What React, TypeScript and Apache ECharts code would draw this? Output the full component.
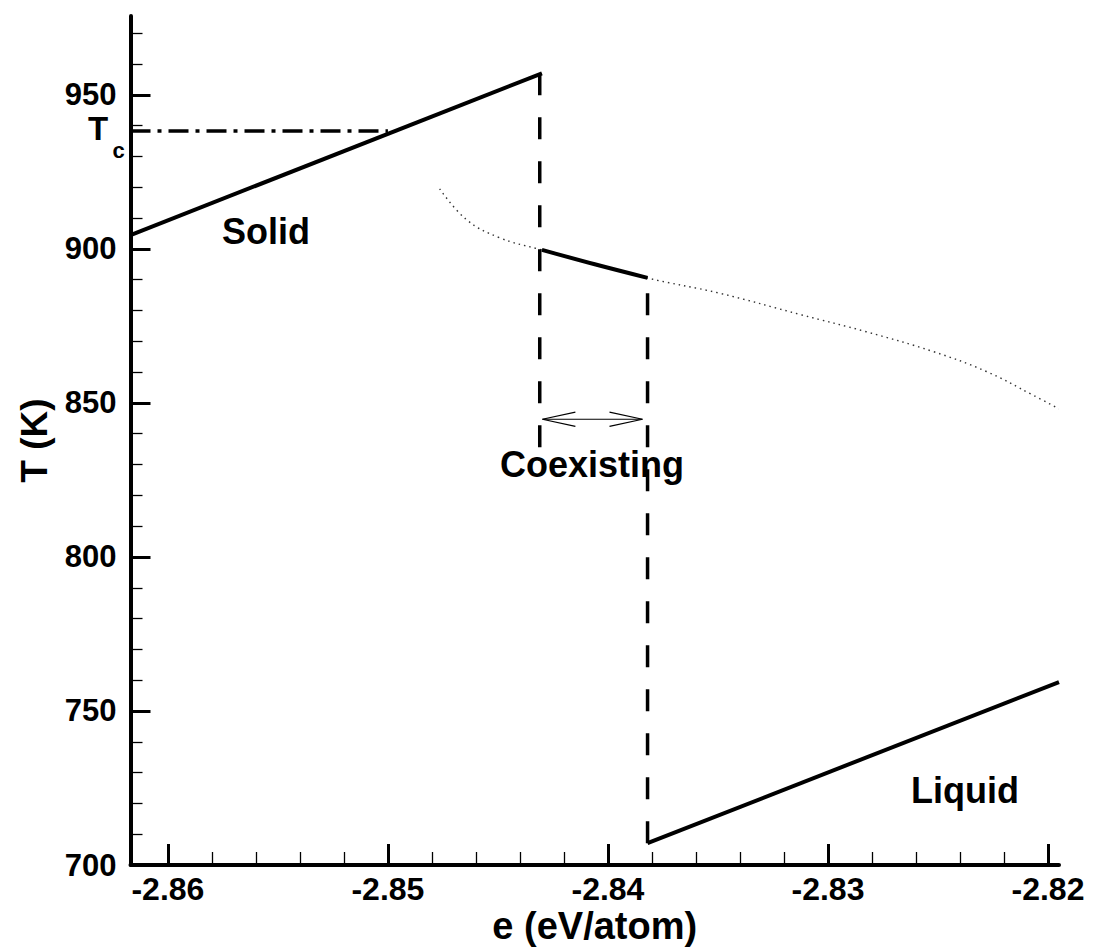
import React, { useEffect, useRef } from "react";
import * as echarts from "echarts";

// Axis ticks
const xTicks = [-2.86, -2.85, -2.84, -2.83, -2.82];
const xMinorTicks = [
  -2.858, -2.856, -2.854, -2.852,
  -2.848, -2.846, -2.844, -2.842,
  -2.838, -2.836, -2.834, -2.832,
  -2.828, -2.826, -2.824, -2.822,
];
const yTicks = [700, 750, 800, 850, 900, 950];
const yMinorTicks = [
  710, 720, 730, 740, 760, 770, 780, 790, 810, 820, 830, 840,
  860, 870, 880, 890, 910, 920, 930, 940, 960, 970,
];
const xRange = [-2.8617, -2.8195];
const yRange = [700, 975.6];

// Solid branch
const solidE = [-2.8617, -2.843];
const solidT = [904.5, 957.0];
// Tc reference line
const tcE = [-2.8617, -2.85];
const tcT = [938.3, 938.3];
// Vertical dashed line from solid end (melting)
const meltE = [-2.8431, -2.8431];
const meltT = [957.0, 835.4];
// Coexisting branch
const coexE = [-2.843, -2.8406, -2.8382];
const coexT = [899.7, 895.0, 890.6];
// Vertical dashed line down to liquid (drawn bottom to top)
const freezeE = [-2.8382, -2.8382];
const freezeT = [707.1, 890.6];
// Liquid branch
const liquidE = [-2.8382, -2.8195];
const liquidT = [707.1, 759.4];
// Dotted curve
const dottedE = [-2.84765, -2.84643, -2.84492, -2.84319, -2.83829, -2.83492, -2.83121, -2.82826, -2.82523, -2.8228, -2.8207, -2.81951];
const dottedT = [919.5, 909.5, 903.6, 900.0, 890.7, 885.6, 878.6, 873.1, 866.7, 860.2, 852.6, 848.1];
// Double arrow
const arrowShaftE = [-2.84298, -2.83843];
const arrowShaftT = [844.7, 844.7];
const arrowLeftE = [-2.84148, -2.84298, -2.84148];
const arrowLeftT = [847.0, 844.7, 842.4];
const arrowRightE = [-2.83993, -2.83843, -2.83993];
const arrowRightT = [847.0, 844.7, 842.4];

const FONT = '"Liberation Sans", Arial, Helvetica, sans-serif';

const zip = (a: number[], b: number[]) => a.map((v, i) => [v, b[i]]);

const lineSeries = (data: number[][], width: number, type: any, color = "#000", z = 2, smooth: any = false) => ({
  type: "line",
  data,
  xAxisIndex: 0,
  yAxisIndex: 0,
  showSymbol: false,
  symbol: "none",
  silent: true,
  smooth,
  z,
  lineStyle: { color, width, type, cap: "butt" },
});

export default function App() {
  const ref = useRef<HTMLDivElement>(null);
  useEffect(() => {
    if (!ref.current) return;
    const chart = echarts.init(ref.current, undefined, { renderer: "svg" });
    const axisText = { color: "#000", fontWeight: "bold", fontFamily: FONT };
    chart.setOption({
      animation: false,
      backgroundColor: "#fff",
      grid: { left: 130.5, right: 35, top: 16, bottom: 83, containLabel: false, outerBoundsMode: "none" },
      xAxis: [
        {
          type: "value",
          min: xRange[0],
          max: xRange[1],
          position: "bottom",
          axisLine: { show: true, lineStyle: { color: "#000", width: 4 } },
          axisTick: { show: true, inside: true, length: 21, lineStyle: { color: "#000", width: 3 }, customValues: xTicks },
          axisLabel: {
            customValues: xTicks,
            formatter: (v: number) => v.toFixed(2),
            fontSize: 32,
            margin: 8,
            ...axisText,
          },
          splitLine: { show: false },
          name: "e (eV/atom)",
          nameLocation: "middle",
          nameGap: 41,
          nameMoveOverlap: false,
          nameTextStyle: { fontSize: 38, lineHeight: 40, ...axisText },
        },
        {
          type: "value",
          min: xRange[0],
          max: xRange[1],
          position: "bottom",
          axisLine: { show: false },
          axisTick: { show: true, inside: true, length: 13, lineStyle: { color: "#000", width: 1.3 }, customValues: xMinorTicks },
          axisLabel: { show: false },
          splitLine: { show: false },
        },
      ],
      yAxis: [
        {
          type: "value",
          min: yRange[0],
          max: yRange[1],
          position: "left",
          axisLine: { show: true, lineStyle: { color: "#000", width: 4 } },
          axisTick: { show: true, inside: true, length: 20, lineStyle: { color: "#000", width: 3 }, customValues: yTicks },
          axisLabel: { customValues: yTicks, fontSize: 31, margin: 14, ...axisText },
          splitLine: { show: false },
          name: "T (K)",
          nameLocation: "middle",
          nameGap: 78,
          nameMoveOverlap: false,
          nameTextStyle: { fontSize: 37, ...axisText },
        },
        {
          type: "value",
          min: yRange[0],
          max: yRange[1],
          position: "left",
          axisLine: { show: false },
          axisTick: { show: true, inside: true, length: 12, lineStyle: { color: "#000", width: 1.3 }, customValues: yMinorTicks },
          axisLabel: { show: false },
          splitLine: { show: false },
        },
      ],
      series: [
        lineSeries(zip(dottedE, dottedT), 1.4, [1.5, 4], "#333", 1, 0.4),
        lineSeries(zip(tcE, tcT), 3.5, [20, 7, 4, 7]),
        lineSeries(zip(solidE, solidT), 4),
        lineSeries(zip(meltE, meltT), 3.5, [22, 22]),
        lineSeries(zip(coexE, coexT), 4, "solid", "#000", 2, 0.4),
        lineSeries(zip(freezeE, freezeT), 3.5, [22, 22]),
        lineSeries(zip(liquidE, liquidT), 4),
        lineSeries(zip(arrowShaftE, arrowShaftT), 1.2, "solid"),
        lineSeries(zip(arrowLeftE, arrowLeftT), 1.2, "solid"),
        lineSeries(zip(arrowRightE, arrowRightT), 1.2, "solid"),
      ],
      graphic: [
        { type: "text", x: 266, y: 231, style: { text: "Solid", fill: "#000", font: `bold 36px ${FONT}`, align: "center", verticalAlign: "middle" } },
        { type: "text", x: 592, y: 464, style: { text: "Coexisting", fill: "#000", font: `bold 36px ${FONT}`, align: "center", verticalAlign: "middle" } },
        { type: "text", x: 965, y: 790, style: { text: "Liquid", fill: "#000", font: `bold 36px ${FONT}`, align: "center", verticalAlign: "middle" } },
        { type: "text", x: 98, y: 128, style: { text: "T", fill: "#000", font: `bold 33px ${FONT}`, align: "center", verticalAlign: "middle" } },
        { type: "text", x: 118.5, y: 150, style: { text: "c", fill: "#000", font: `bold 22px ${FONT}`, align: "center", verticalAlign: "middle" } },
      ],
    });
    return () => chart.dispose();
  }, []);
  return <div ref={ref} style={{ position: "absolute", left: 0, top: 0, width: 1094, height: 948 }} />;
}
